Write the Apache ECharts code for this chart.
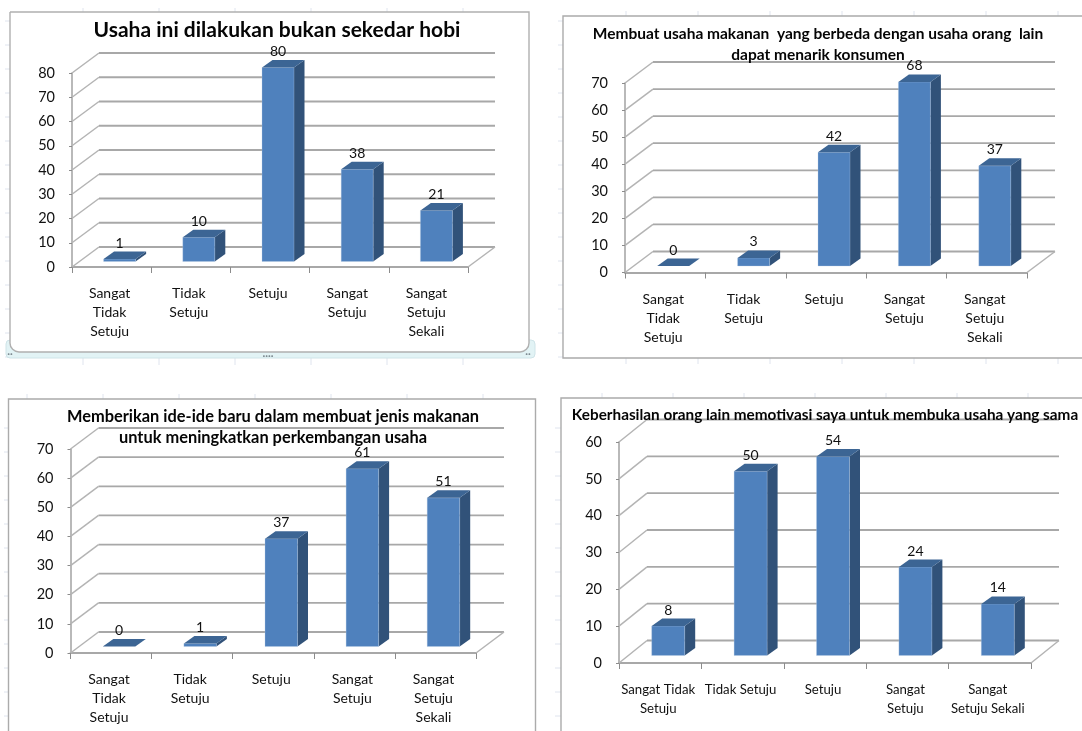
<!DOCTYPE html>
<html>
<head>
<meta charset="utf-8">
<style>html,body{margin:0;padding:0;background:#fff}#c{width:1082px;height:731px;filter:blur(0.4px)}</style>
<script src="https://cdn.jsdelivr.net/npm/echarts@6/dist/echarts.min.js"></script>
</head>
<body>
<div id="c"></div>
<script>
// ---- data ----
const title1 = 'Usaha ini dilakukan bukan sekedar hobi';
const title2 = 'Membuat usaha makanan  yang berbeda dengan usaha orang  lain\ndapat menarik konsumen';
const title3 = 'Memberikan ide-ide baru dalam membuat jenis makanan\nuntuk meningkatkan perkembangan usaha';
const title4 = 'Keberhasilan orang lain memotivasi saya untuk membuka usaha yang sama';

const categories1 = ['Sangat\nTidak\nSetuju', 'Tidak\nSetuju', 'Setuju', 'Sangat\nSetuju', 'Sangat\nSetuju\nSekali'];
const categories2 = categories1;
const categories3 = categories1;
const categories4 = ['Sangat Tidak\nSetuju', 'Tidak Setuju', 'Setuju', 'Sangat\nSetuju', 'Sangat\nSetuju Sekali'];

const values1 = [1, 10, 80, 38, 21];
const values2 = [0, 3, 42, 68, 37];
const values3 = [0, 1, 37, 61, 51];
const values4 = [8, 50, 54, 24, 14];

const ticks1 = [0, 10, 20, 30, 40, 50, 60, 70, 80];
const ticks2 = [0, 10, 20, 30, 40, 50, 60, 70];
const ticks3 = [0, 10, 20, 30, 40, 50, 60, 70];
const ticks4 = [0, 10, 20, 30, 40, 50, 60];

// ---- layout of each panel (pixels) ----
const panels = [
  {title: title1, cats: categories1, vals: values1, ticks: ticks1,
   left: 72, right: 468, top: 73, bottom: 267, dx: 27, dy: -20, shiftY: 5.5, barW: 32, labelSize: 14,
   titleX: 277, titleY: 20, titleSize: 21, frame: [10, 12, 519, 340]},
  {title: title2, cats: categories2, vals: values2, ticks: ticks2,
   left: 625, right: 1027, top: 83, bottom: 272.5, dx: 28, dy: -21, shiftY: 6.5, barW: 32, labelSize: 14,
   titleX: 818, titleY: 23, titleSize: 15.5, frame: [563, 16, 530, 342]},
  {title: title3, cats: categories3, vals: values3, ticks: ticks3,
   left: 70.5, right: 476, top: 449, bottom: 653, dx: 28, dy: -21, shiftY: 6.5, barW: 32.5, labelSize: 14,
   titleX: 273, titleY: 406, titleSize: 16.4, frame: [8.5, 399, 527, 345]},
  {title: title4, cats: categories4, vals: values4, ticks: ticks4,
   left: 619, right: 1031, top: 442, bottom: 663, dx: 28, dy: -22.5, shiftY: 7.5, barW: 33, labelSize: 13.2,
   titleX: 825, titleY: 405, titleSize: 15.3, frame: [561, 398, 530, 345]}
];

const FONT = 'Lato, "Open Sans", sans-serif';
const WALL = '#a8a8a8', SLANT = '#b4b4b4', TXT = '#111111';
const FRONT = '#4f81bd', TOP = '#3c6594', SIDE = '#315279';

function wallRender(p) {
  return function (params, api) {
    const cs = params.coordSys;
    const y = api.coord([0, api.value(1)])[1];
    const x0 = cs.x, x1 = cs.x + cs.width;
    const kids = [
      {type: 'line', shape: {x1: x0, y1: y, x2: x0 + p.dx, y2: y + p.dy}, style: {stroke: SLANT, lineWidth: 1.5}},
      {type: 'line', shape: {x1: x0 + p.dx, y1: y + p.dy, x2: x1 + p.dx, y2: y + p.dy}, style: {stroke: WALL, lineWidth: 1.8}}
    ];
    if (api.value(1) === 0) {
      kids.push({type: 'line', shape: {x1: x1, y1: y, x2: x1 + p.dx, y2: y + p.dy}, style: {stroke: SLANT, lineWidth: 1.5}});
    }
    return {type: 'group', children: kids};
  };
}

function barRender(p) {
  return function (params, api) {
    const c = api.coord([api.value(0), api.value(1)]);
    const base = api.coord([api.value(0), 0])[1];
    const w = p.barW, sx = 10.5, sy = -7.5;
    const xl = c[0] + 8 - w / 2, xr = xl + w;
    const yb = base - p.shiftY, yt = c[1] - p.shiftY;
    const kids = [];
    if (yb - yt > 0.1) {
      kids.push({type: 'polygon', shape: {points: [[xr, yb], [xr + sx, yb + sy], [xr + sx, yt + sy], [xr, yt]]}, style: {fill: SIDE}});
      kids.push({type: 'rect', shape: {x: xl, y: yt, width: w, height: yb - yt},
        style: {fill: FRONT, stroke: 'rgba(185,205,230,0.45)', lineWidth: 0.7}});
    }
    kids.push({type: 'polygon', shape: {points: [[xl, yt], [xr, yt], [xr + sx, yt + sy], [xl + sx, yt + sy]]}, style: {fill: TOP}});
    kids.push({type: 'text', style: {text: String(api.value(1)), x: xl + w / 2, y: yt - 16,
      align: 'center', verticalAlign: 'middle', font: '14px ' + FONT, fill: TXT}});
    return {type: 'group', children: kids};
  };
}

const option = {
  animation: false,
  backgroundColor: '#fff',
  title: [], grid: [], xAxis: [], yAxis: [], series: [],
  graphic: []
};

panels.forEach(function (p, k) {
  const maxT = p.ticks[p.ticks.length - 1];
  option.grid.push({left: p.left, top: p.top, width: p.right - p.left, height: p.bottom - p.top});
  option.xAxis.push({
    type: 'category', gridIndex: k, data: p.cats, boundaryGap: true,
    axisLine: {show: true, lineStyle: {color: WALL, width: 1.8}},
    axisTick: {show: true, length: 6, alignWithLabel: false, interval: 0, lineStyle: {color: '#8c8c8c', width: 1}},
    axisLabel: {show: true, interval: 0, margin: 17, lineHeight: 19, fontFamily: FONT, fontSize: p.labelSize, color: TXT, verticalAlign: 'top', align: 'center', padding: [0, 4, 0, 0], hideOverlap: false},
    splitLine: {show: false}
  });
  option.yAxis.push({
    type: 'value', gridIndex: k, min: 0, max: maxT, interval: 10,
    axisLine: {show: true, onZero: false, lineStyle: {color: WALL, width: 1.6}},
    axisTick: {show: true, length: 3, lineStyle: {color: '#8c8c8c'}},
    axisLabel: {show: true, margin: 17, fontFamily: FONT, fontSize: 14.5, color: TXT, padding: [2, 0, 0, 0]},
    splitLine: {show: false}
  });
  option.title.push({
    text: p.title, left: p.titleX, top: p.titleY, textAlign: 'center', padding: 0,
    textStyle: {fontFamily: FONT, fontSize: p.titleSize, fontWeight: 'bold', color: '#050505', lineHeight: 21}, z: 10
  });
  option.series.push({
    type: 'custom', xAxisIndex: k, yAxisIndex: k, clip: false, z: 1, silent: true,
    coordinateSystem: 'cartesian2d', encode: {x: 0, y: 1},
    data: p.ticks.map(function (t) { return [0, t]; }),
    renderItem: wallRender(p)
  });
  option.series.push({
    type: 'custom', xAxisIndex: k, yAxisIndex: k, clip: false, z: 3, silent: true,
    coordinateSystem: 'cartesian2d', encode: {x: 0, y: 1},
    data: p.vals.map(function (v, i) { return [i, v]; }),
    renderItem: barRender(p)
  });
  if (k > 0) {
    option.graphic.push({
      type: 'rect', z: -5, silent: true,
      shape: {x: p.frame[0], y: p.frame[1], width: p.frame[2], height: p.frame[3]},
      style: {fill: '#fff', stroke: '#ababab', lineWidth: 1.4}
    });
  } else {
    const f = p.frame;
    // selection band behind the first chart, then its frame with rounded lower corners
    option.graphic.push({type: 'rect', z: -6, silent: true, shape: {x: 6, y: 340, width: 529, height: 18, r: 4},
      style: {fill: '#e2f3f5', stroke: '#cfe4e8', lineWidth: 1}});
    option.graphic.push({type: 'rect', z: -5, silent: true,
      shape: {x: f[0], y: f[1], width: f[2], height: f[3], r: [0, 0, 9, 9]},
      style: {fill: '#fff', stroke: '#b0b0b0', lineWidth: 1.4}});
    option.graphic.push({type: 'text', z: -4, silent: true, style: {text: '····', x: 268, y: 356, align: 'center', verticalAlign: 'middle', font: 'bold 10px ' + FONT, fill: '#7d8a90'}});
    option.graphic.push({type: 'text', z: -4, silent: true, style: {text: '··', x: 10, y: 354, align: 'center', verticalAlign: 'middle', font: 'bold 10px ' + FONT, fill: '#7d8a90'}});
    option.graphic.push({type: 'text', z: -4, silent: true, style: {text: '··', x: 528, y: 354, align: 'center', verticalAlign: 'middle', font: 'bold 10px ' + FONT, fill: '#7d8a90'}});
  }
});

// faint sheet cell marks outside the frames
function mark(x1, y1, x2, y2) {
  option.graphic.unshift({type: 'line', z: -8, silent: true, shape: {x1: x1, y1: y1, x2: x2, y2: y2},
    style: {stroke: '#dfe4ee', lineWidth: 1}});
}
for (let x = 83; x < 530; x += 76) { mark(x, 8, x, 12); mark(x, 358, x, 365); }
for (let x = 626; x < 1082; x += 72) { mark(x, 11, x, 16); mark(x, 358, x, 364); }
for (let x = 27; x < 530; x += 76) { mark(x, 394, x, 399); }
for (let x = 602; x < 1082; x += 71) { mark(x, 393, x, 398); }
for (let y = 21; y < 360; y += 24) { mark(5, y, 10, y); mark(558, y, 563, y); mark(1074, y, 1080, y); }
for (let y = 428; y < 731; y += 24) { mark(4, y, 8, y); mark(555, y, 561, y); }

echarts.init(document.getElementById('c'), null, {renderer: 'canvas'}).setOption(option);
</script>
</body>
</html>
